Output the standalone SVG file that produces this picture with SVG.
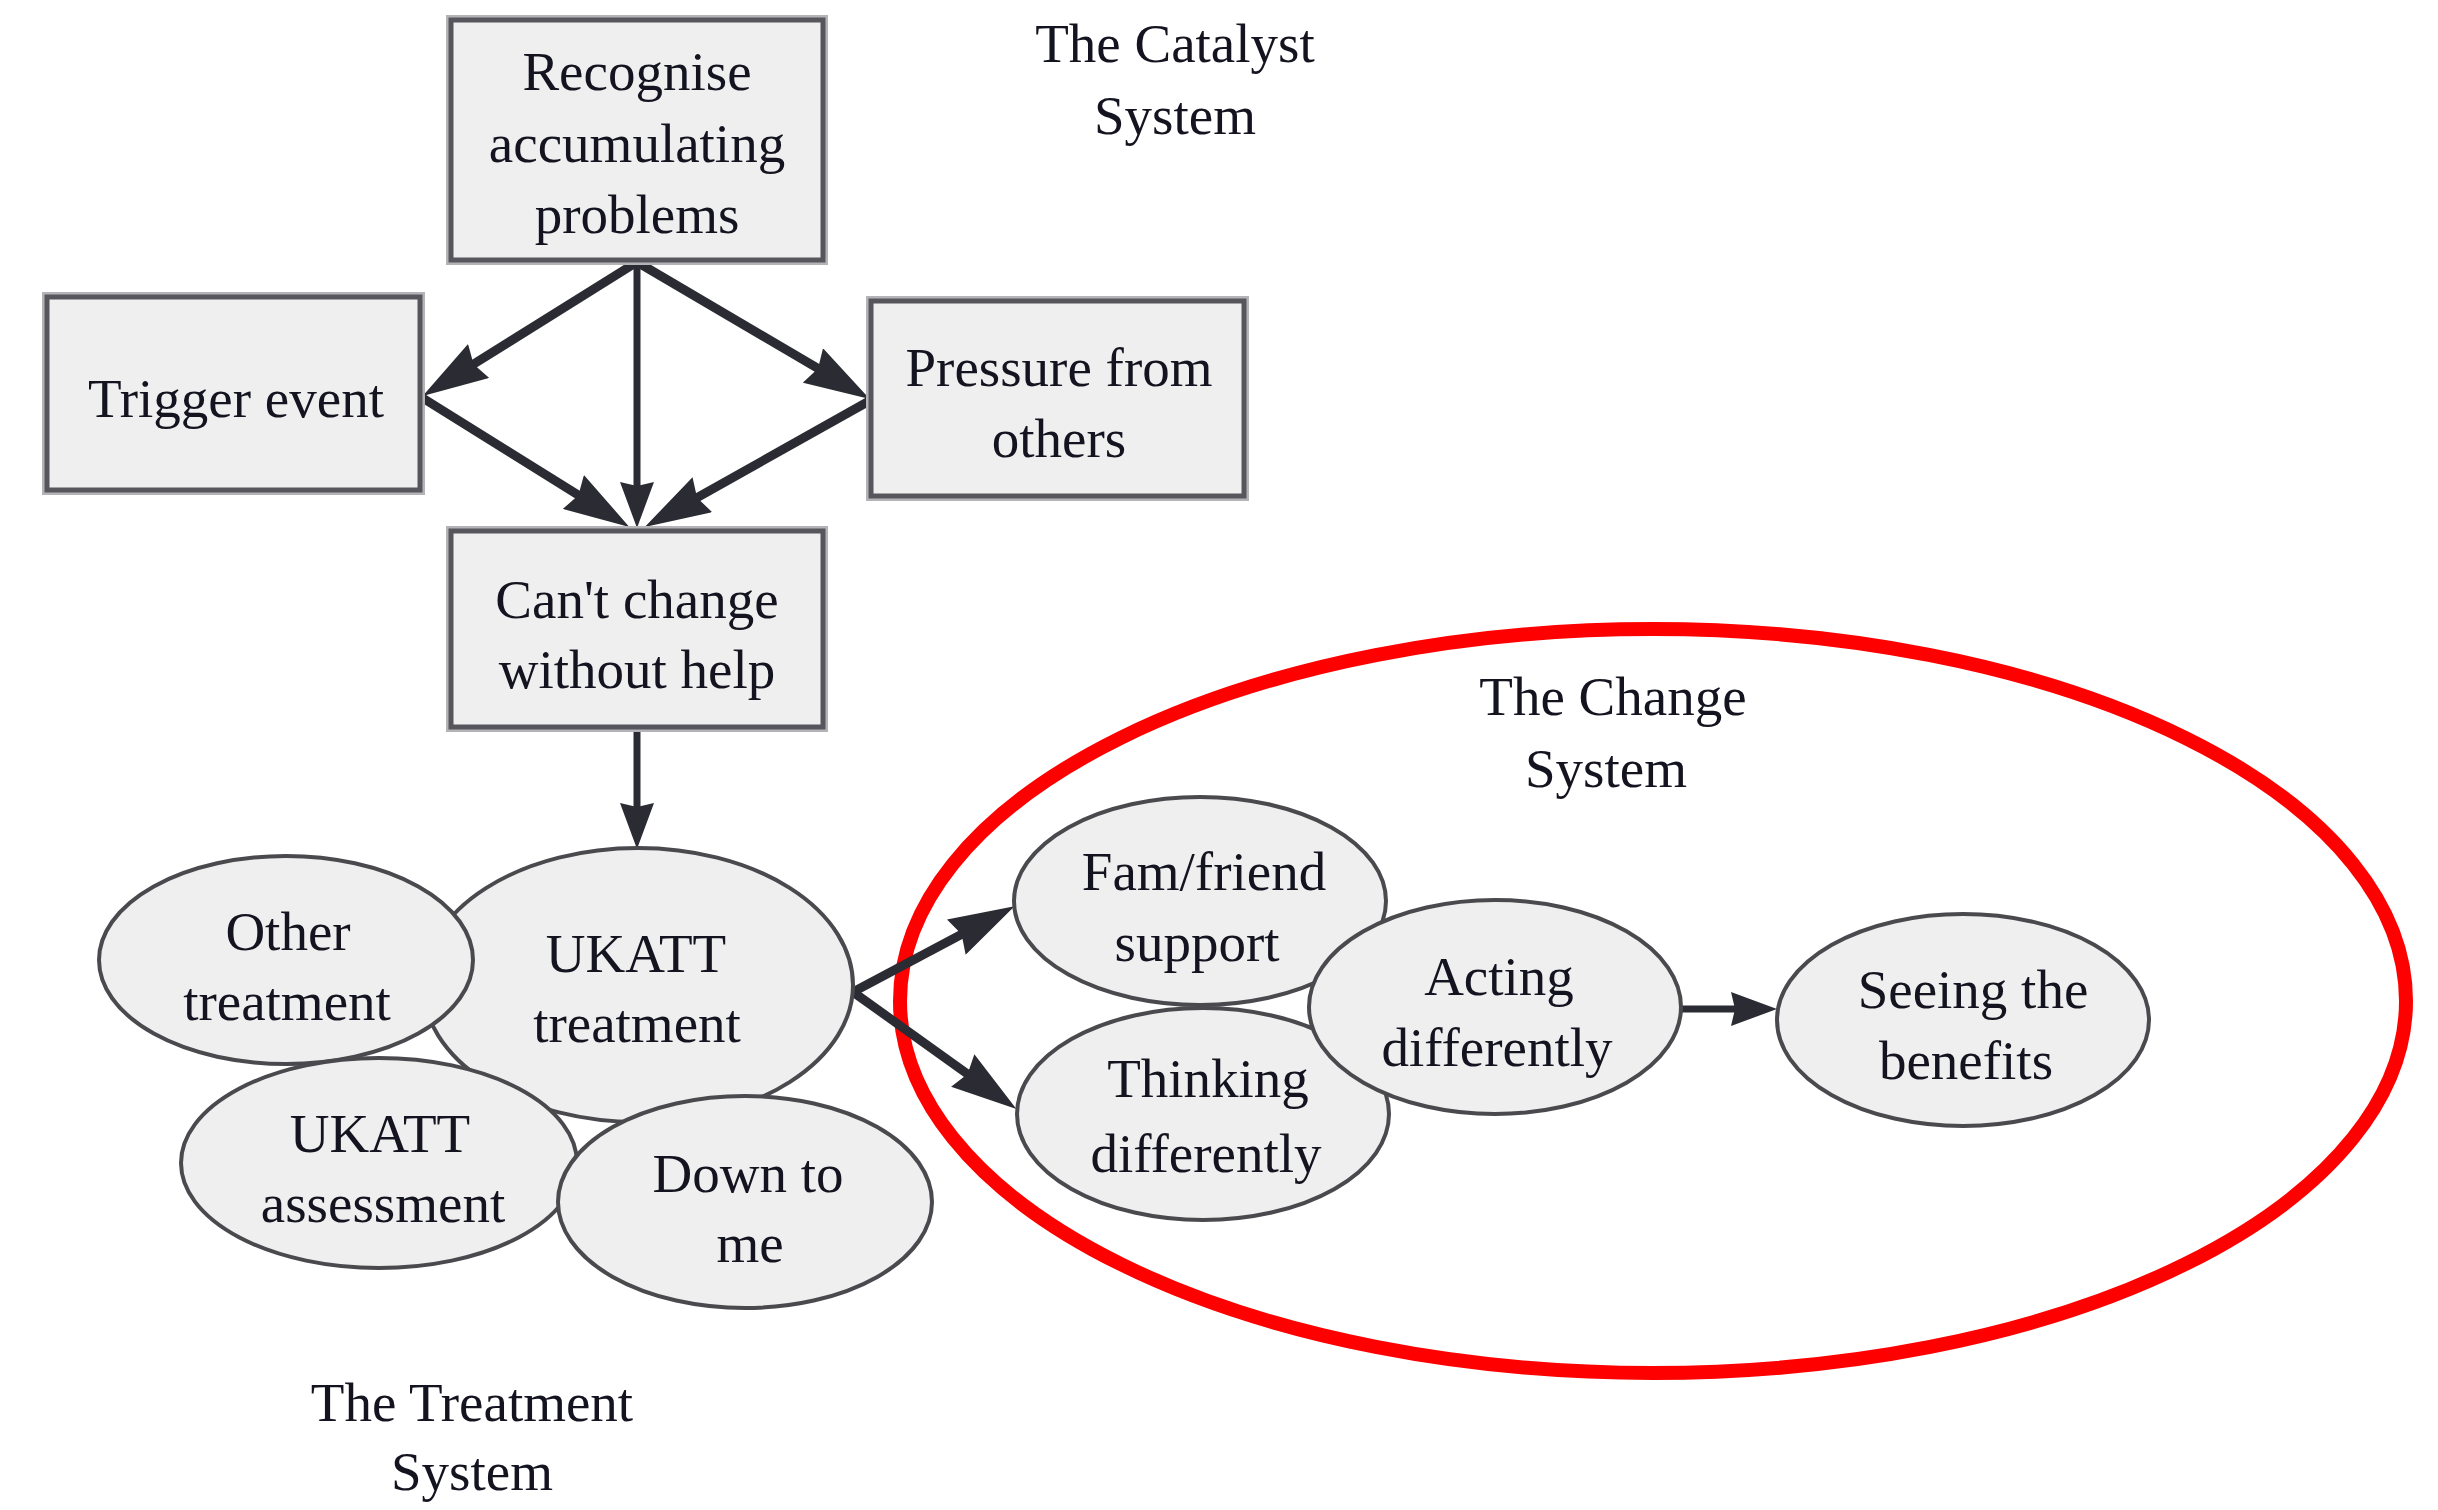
<svg xmlns="http://www.w3.org/2000/svg" width="2438" height="1510" viewBox="0 0 2438 1510">
  <style>
    .lbl { font-family: "Liberation Serif", "Times New Roman", serif; font-size: 55px; fill: #141420; text-anchor: middle; }
    .box-halo { fill: none; stroke: #b4b4b8; stroke-width: 10; }
    .box { fill: #efefef; stroke: #56565c; stroke-width: 5; }
    .oval { fill: #efefef; stroke: #4a4a4e; stroke-width: 4; }
    .edge { fill: none; stroke: #2b2c33; }
    .thick { stroke-width: 9; }
    .thin { stroke-width: 7; }
  </style>
  <defs>
    <marker id="headLong" viewBox="0 0 66 40" refX="28" refY="20" markerWidth="66" markerHeight="40" markerUnits="userSpaceOnUse" orient="auto">
      <path d="M0,0 L66,20 L0,40 L6,20 z" fill="#2b2c33"/>
    </marker>
    <marker id="headShort" viewBox="0 0 46 34" refX="18" refY="17" markerWidth="46" markerHeight="34" markerUnits="userSpaceOnUse" orient="auto">
      <path d="M0,0 L46,17 L0,34 L4,17 z" fill="#2b2c33"/>
    </marker>
  </defs>

  <rect width="2438" height="1510" fill="#ffffff"/>

  <!-- system captions -->
  <g id="caption-catalyst">
    <text class="lbl" x="1175" y="62">The Catalyst</text>
    <text class="lbl" x="1175" y="134">System</text>
  </g>
  <g id="caption-treatment">
    <text class="lbl" x="472" y="1421">The Treatment</text>
    <text class="lbl" x="472" y="1490">System</text>
  </g>

  <!-- change system boundary -->
  <g id="change-system">
    <ellipse cx="1653" cy="1001" rx="753" ry="372" fill="none" stroke="#ff0000" stroke-width="14"/>
    <text class="lbl" x="1613" y="715">The Change</text>
    <text class="lbl" x="1606" y="787">System</text>
  </g>

  <!-- connectors: shafts stop short of the tip, markers carry the heads the rest of the way -->
  <g id="connectors">
    <path class="edge thick" d="M637,262 L454.9,375.8" marker-end="url(#headLong)"/>
    <path class="edge thick" d="M637,262 L837,379.7" marker-end="url(#headLong)"/>
    <path class="edge thin" d="M637,262 L637,500" marker-end="url(#headShort)"/>
    <path class="edge thick" d="M421,397 L597.1,506.8" marker-end="url(#headLong)"/>
    <path class="edge thick" d="M871,400 L677.9,508.4" marker-end="url(#headLong)"/>
    <path class="edge thin" d="M637,728 L637,821" marker-end="url(#headShort)"/>
    <path class="edge thick" d="M853,992 L981,924" marker-end="url(#headLong)"/>
    <path class="edge thick" d="M853,992 L985.5,1086.8" marker-end="url(#headLong)"/>
    <path class="edge thin" d="M1681,1009 L1749,1009" marker-end="url(#headShort)"/>
  </g>

  <!-- catalyst boxes -->
  <g id="recognise">
    <rect class="box-halo" x="451" y="20" width="372" height="240"/>
    <rect class="box" x="451" y="20" width="372" height="240"/>
    <text class="lbl" x="637" y="90">Recognise</text>
    <text class="lbl" x="637" y="162">accumulating</text>
    <text class="lbl" x="637" y="233">problems</text>
  </g>
  <g id="trigger">
    <rect class="box-halo" x="47" y="297" width="373" height="193"/>
    <rect class="box" x="47" y="297" width="373" height="193"/>
    <text class="lbl" x="236" y="417">Trigger event</text>
  </g>
  <g id="pressure">
    <rect class="box-halo" x="871" y="301" width="373" height="195"/>
    <rect class="box" x="871" y="301" width="373" height="195"/>
    <text class="lbl" x="1059" y="386">Pressure from</text>
    <text class="lbl" x="1059" y="457">others</text>
  </g>
  <g id="cant-change">
    <rect class="box-halo" x="451" y="531" width="372" height="196"/>
    <rect class="box" x="451" y="531" width="372" height="196"/>
    <text class="lbl" x="637" y="618">Can't change</text>
    <text class="lbl" x="637" y="688">without help</text>
  </g>

  <!-- treatment cluster -->
  <g id="ukatt-treatment">
    <ellipse class="oval" cx="638" cy="985" rx="215" ry="137"/>
    <text class="lbl" x="636" y="972">UKATT</text>
    <text class="lbl" x="637" y="1042">treatment</text>
  </g>
  <g id="other-treatment">
    <ellipse class="oval" cx="286" cy="960" rx="187" ry="104"/>
    <text class="lbl" x="288" y="950">Other</text>
    <text class="lbl" x="287" y="1020">treatment</text>
  </g>
  <g id="ukatt-assessment">
    <ellipse class="oval" cx="379" cy="1163" rx="198" ry="105"/>
    <text class="lbl" x="380" y="1152">UKATT</text>
    <text class="lbl" x="383" y="1222">assessment</text>
  </g>
  <g id="down-to-me">
    <ellipse class="oval" cx="745" cy="1202" rx="187" ry="106"/>
    <text class="lbl" x="748" y="1192">Down to</text>
    <text class="lbl" x="750" y="1262">me</text>
  </g>

  <!-- change cluster -->
  <g id="fam-friend">
    <ellipse class="oval" cx="1200" cy="901" rx="186" ry="104"/>
    <text class="lbl" x="1204" y="890">Fam/friend</text>
    <text class="lbl" x="1197" y="961">support</text>
  </g>
  <g id="thinking">
    <ellipse class="oval" cx="1203" cy="1114" rx="186" ry="106"/>
    <text class="lbl" x="1208" y="1097">Thinking</text>
    <text class="lbl" x="1206" y="1172">differently</text>
  </g>
  <g id="acting">
    <ellipse class="oval" cx="1495" cy="1007" rx="186" ry="107"/>
    <text class="lbl" x="1499" y="995">Acting</text>
    <text class="lbl" x="1497" y="1066">differently</text>
  </g>
  <g id="seeing">
    <ellipse class="oval" cx="1963" cy="1020" rx="186" ry="106"/>
    <text class="lbl" x="1973" y="1008">Seeing the</text>
    <text class="lbl" x="1966" y="1079">benefits</text>
  </g>
</svg>
